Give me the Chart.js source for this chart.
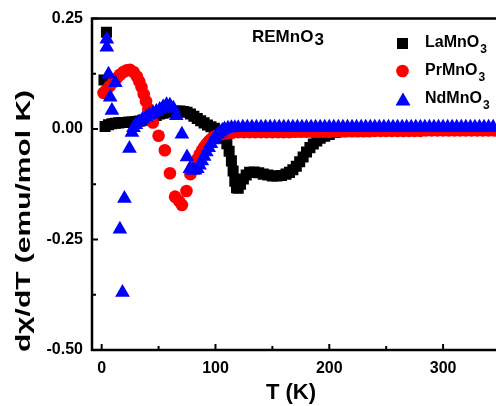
<!DOCTYPE html>
<html lang="en">
<head>
<meta charset="UTF-8">
<title>dχ/dT of REMnO3</title>
<style>
  html, body { margin: 0; padding: 0; background: #fff; overflow: hidden; }
  canvas { display: block; }
</style>
</head>
<body>
<canvas id="derivChart" width="496" height="406"></canvas>
<script src="https://cdn.jsdelivr.net/npm/chart.js@4.4.1/dist/chart.umd.min.js"></script>
<script>
// LaMnO3 (black squares)
const laT = [
  4.2, 2, 3, 6, 9, 12, 15, 18, 21, 24,
  27, 30, 33, 36, 39, 42, 45, 48, 51, 54,
  57, 60, 63, 66, 69, 72, 75, 78, 81, 84,
  87, 90, 93, 96, 99, 102, 104, 106, 108, 110,
  112, 114, 115.5, 117, 118.5, 120, 122, 124.5, 127, 130,
  134, 138, 142, 146, 150, 154, 158, 162, 165, 168,
  171, 174, 177, 180, 183, 186, 189, 192, 196, 200,
  205, 210, 216, 222, 230, 240, 250, 260, 270, 280,
  290, 300, 310, 320, 330, 340
];
const laV = [
  0.219, 0.111, 0.006, 0.010, 0.012, 0.013, 0.014, 0.015, 0.015, 0.016,
  0.016, 0.017, 0.018, 0.020, 0.022, 0.025, 0.028, 0.031, 0.034, 0.036,
  0.038, 0.039, 0.040, 0.041, 0.041, 0.040, 0.038, 0.034, 0.029, 0.024,
  0.019, 0.014, 0.009, 0.005, 0.002, -0.003, -0.007, -0.013, -0.021, -0.033,
  -0.050, -0.072, -0.095, -0.118, -0.133, -0.134, -0.125, -0.113, -0.104, -0.098,
  -0.097, -0.099, -0.102, -0.104, -0.106, -0.106, -0.105, -0.102, -0.098, -0.092,
  -0.084, -0.074, -0.063, -0.052, -0.042, -0.034, -0.027, -0.021, -0.016, -0.012,
  -0.008, -0.006, -0.004, -0.003, -0.002, -0.002, -0.001, -0.001, -0.001, -0.001,
  -0.001, -0.001, -0.001, -0.001, -0.001, -0.001
];

// PrMnO3 (red circles)
const prT = [
  1.6, 4, 7, 10, 13, 16, 19, 22, 25, 28,
  31, 33, 35, 37, 39, 41, 45, 50, 55.5, 60,
  64.5, 68, 70.5, 74.5, 78, 80, 82, 84, 86, 88,
  90, 92, 94, 96, 98, 100, 103, 106, 110, 115,
  120, 125, 130, 135, 140, 145, 150, 155, 160, 165,
  170, 175, 180, 185, 190, 195, 200, 205, 210, 215,
  220, 225, 230, 235, 240, 245, 250, 255, 260, 265,
  270, 275, 280, 285, 290, 295, 300, 305, 310, 315,
  320, 325, 330, 335, 340, 345
];
const prV = [
  0.082, 0.088, 0.097, 0.106, 0.115, 0.123, 0.129, 0.133, 0.134, 0.129,
  0.119, 0.108, 0.095, 0.079, 0.063, 0.046, 0.015, -0.015, -0.048, -0.100,
  -0.153, -0.163, -0.172, -0.140, -0.102, -0.088, -0.078, -0.068, -0.058, -0.049,
  -0.041, -0.034, -0.028, -0.023, -0.019, -0.016, -0.013, -0.011, -0.009, -0.008,
  -0.007, -0.007, -0.007, -0.007, -0.007, -0.007, -0.007, -0.007, -0.007, -0.007,
  -0.006, -0.006, -0.006, -0.006, -0.006, -0.006, -0.006, -0.005, -0.005, -0.005,
  -0.005, -0.005, -0.005, -0.005, -0.004, -0.004, -0.004, -0.004, -0.004, -0.004,
  -0.004, -0.004, -0.004, -0.003, -0.003, -0.003, -0.003, -0.003, -0.003, -0.003,
  -0.003, -0.003, -0.003, -0.003, -0.003, -0.003
];

// NdMnO3 (blue triangles)
const ndT = [
  4.5, 4.5, 6, 12, 7.5, 9, 16, 18.3, 20, 24.4,
  26.6, 28, 30, 33, 36, 39, 42, 45, 48, 51,
  54, 57, 60, 63, 65.5, 70.5, 75, 77.5, 80, 82,
  84, 86, 88, 90, 92, 94, 96, 98, 100, 102,
  104, 106, 108, 111, 114, 117, 120, 124, 128, 132,
  136, 140, 144, 148, 152, 156, 160, 164, 168, 172,
  176, 180, 184, 188, 192, 196, 200, 204, 208, 212,
  216, 220, 224, 228, 232, 236, 240, 244, 248, 252,
  256, 260, 264, 268, 272, 276, 280, 284, 288, 292,
  296, 300, 304, 308, 312, 316, 320, 324, 328, 332,
  336, 340, 344
];
const ndV = [
  0.203, 0.185, 0.124, 0.105, 0.072, 0.042, -0.227, -0.370, -0.157, -0.044,
  -0.008, 0.003, 0.010, 0.016, 0.022, 0.027, 0.032, 0.036, 0.040, 0.044,
  0.050, 0.055, 0.054, 0.047, 0.030, -0.012, -0.063, -0.090, -0.093, -0.093,
  -0.090, -0.082, -0.072, -0.062, -0.052, -0.042, -0.033, -0.025, -0.018, -0.012,
  -0.007, -0.003, 0.000, 0.002, 0.003, 0.003, 0.003, 0.004, 0.004, 0.004,
  0.004, 0.004, 0.004, 0.004, 0.004, 0.004, 0.004, 0.004, 0.004, 0.004,
  0.004, 0.004, 0.004, 0.004, 0.004, 0.004, 0.004, 0.004, 0.004, 0.004,
  0.004, 0.004, 0.004, 0.004, 0.004, 0.004, 0.004, 0.004, 0.004, 0.004,
  0.004, 0.004, 0.004, 0.004, 0.004, 0.004, 0.004, 0.004, 0.004, 0.004,
  0.004, 0.004, 0.004, 0.004, 0.004, 0.004, 0.004, 0.004, 0.004, 0.004,
  0.004, 0.004, 0.004
];

const xTickValues = [0, 100, 200, 300];
const xMinorTicks = [50, 150, 250];
const yTickValues = [-0.5, -0.25, 0, 0.25];
const yMinorTicks = [-0.375, -0.125, 0.125];

const FONT = '"Liberation Sans", Arial, Helvetica, sans-serif';

function toPoints(xs, ys) {
  return xs.map((x, i) => ({ x: x, y: ys[i] }));
}

// formula with a subscript, e.g. LaMnO + 3
function drawFormula(ctx, base, sub, x, y, size, subSize, drop) {
  ctx.font = 'bold ' + size + 'px ' + FONT;
  ctx.fillText(base, x, y);
  const w = ctx.measureText(base).width;
  ctx.font = 'bold ' + subSize + 'px ' + FONT;
  ctx.fillText(sub, x + w + 1, y + drop);
}

const framePlugin = {
  id: 'frame',
  afterDraw(chart) {
    const ctx = chart.ctx;
    const a = chart.chartArea;
    const xs = chart.scales.x;
    const ys = chart.scales.y;
    ctx.save();
    ctx.strokeStyle = '#000';
    ctx.lineWidth = 2.5;
    ctx.beginPath();
    ctx.moveTo(a.right + 2, a.top);
    ctx.lineTo(a.left, a.top);
    ctx.lineTo(a.left, a.bottom);
    ctx.lineTo(a.right + 2, a.bottom);
    ctx.stroke();

    // inward tick marks
    ctx.lineWidth = 2;
    ctx.beginPath();
    xTickValues.forEach(v => {
      const p = xs.getPixelForValue(v);
      ctx.moveTo(p, a.bottom); ctx.lineTo(p, a.bottom - 6);
    });
    xMinorTicks.forEach(v => {
      const p = xs.getPixelForValue(v);
      ctx.moveTo(p, a.bottom); ctx.lineTo(p, a.bottom - 4);
    });
    yTickValues.forEach(v => {
      const p = ys.getPixelForValue(v);
      ctx.moveTo(a.left, p); ctx.lineTo(a.left + 6, p);
    });
    yMinorTicks.forEach(v => {
      const p = ys.getPixelForValue(v);
      ctx.moveTo(a.left, p); ctx.lineTo(a.left + 4, p);
    });
    ctx.stroke();

    ctx.fillStyle = '#000';
    // x title
    ctx.font = 'bold 22px ' + FONT;
    ctx.textAlign = 'center';
    ctx.textBaseline = 'middle';
    ctx.fillText('T (K)', 291, 393);

    // y title, stretched along its length like the original
    ctx.save();
    ctx.translate(24, 221);
    ctx.rotate(-Math.PI / 2);
    ctx.font = 'bold 21px ' + FONT;
    const yTitle = 'dχ/dT (emu/mol K)';
    const tw = ctx.measureText(yTitle).width;
    ctx.scale(262 / tw, 1);
    ctx.fillText(yTitle, 0, 0);
    ctx.restore();

    // sample label
    ctx.textAlign = 'left';
    ctx.textBaseline = 'alphabetic';
    drawFormula(ctx, 'REMnO', '3', 252, 42, 17, 17, 3);

    // legend
    const names = [['LaMnO', 47], ['PrMnO', 75], ['NdMnO', 103]];
    names.forEach(n => drawFormula(ctx, n[0], '3', 425, n[1], 16, 12, 6));

    ctx.fillStyle = '#000000';
    ctx.fillRect(397, 38, 11, 11);
    ctx.fillStyle = '#ff0000';
    ctx.beginPath();
    ctx.arc(402.5, 71, 6.3, 0, Math.PI * 2);
    ctx.fill();
    ctx.fillStyle = '#0000ff';
    ctx.beginPath();
    ctx.moveTo(403, 92.5);
    ctx.lineTo(410.5, 105.5);
    ctx.lineTo(395.5, 105.5);
    ctx.closePath();
    ctx.fill();
    ctx.restore();
  }
};

new Chart(document.getElementById('derivChart'), {
  type: 'scatter',
  data: {
    datasets: [
      {
        label: 'LaMnO3',
        data: toPoints(laT, laV),
        pointStyle: 'rect',
        pointRadius: 7.8,
        borderWidth: 0,
        backgroundColor: '#000000',
        borderColor: '#000000',
        order: 3
      },
      {
        label: 'PrMnO3',
        data: toPoints(prT, prV),
        pointStyle: 'circle',
        pointRadius: 6.3,
        borderWidth: 0,
        backgroundColor: '#ff0000',
        borderColor: '#ff0000',
        order: 2
      },
      {
        label: 'NdMnO3',
        data: toPoints(ndT, ndV),
        pointStyle: 'triangle',
        pointRadius: 8.5,
        borderWidth: 0,
        backgroundColor: '#0000ff',
        borderColor: '#0000ff',
        order: 1
      }
    ]
  },
  options: {
    responsive: false,
    animation: false,
    layout: { autoPadding: false, padding: { top: 15, left: 0, right: 0, bottom: 0 } },
    plugins: {
      legend: { display: false },
      tooltip: { enabled: false }
    },
    scales: {
      x: {
        type: 'linear',
        min: -8.5,
        max: 346.5,
        grid: { display: false, drawTicks: false },
        border: { display: false },
        afterBuildTicks: s => { s.ticks = xTickValues.map(v => ({ value: v })); },
        afterFit: s => { s.height = 56; },
        ticks: {
          color: '#000',
          font: { family: FONT, size: 16, weight: 'bold' },
          padding: 9,
          maxRotation: 0,
          autoSkip: false,
          callback: v => String(v)
        }
      },
      y: {
        type: 'linear',
        min: -0.5,
        max: 0.25,
        grid: { display: false, drawTicks: false },
        border: { display: false },
        afterBuildTicks: s => { s.ticks = yTickValues.map(v => ({ value: v })); },
        afterFit: s => { s.width = 92; },
        ticks: {
          color: '#000',
          font: { family: FONT, size: 16, weight: 'bold' },
          padding: 9,
          autoSkip: false,
          callback: v => Number(v).toFixed(2)
        }
      }
    }
  },
  plugins: [framePlugin]
});
</script>
</body>
</html>
